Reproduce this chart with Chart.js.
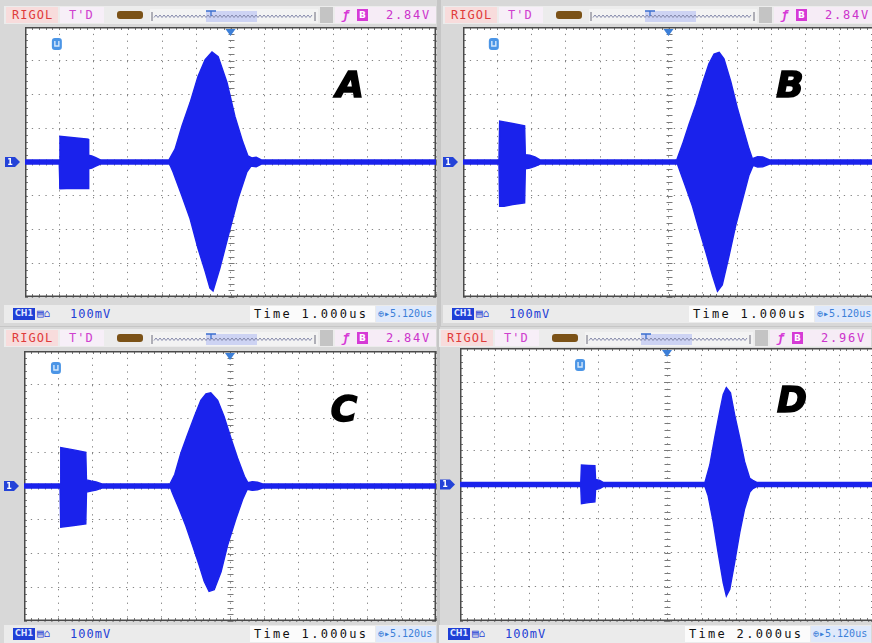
<!DOCTYPE html>
<html><head><meta charset="utf-8">
<title>Oscilloscope captures A-D</title>
<script src="https://cdn.jsdelivr.net/npm/chart.js@4.4.1/dist/chart.umd.min.js"></script>
<style>
html,body{margin:0;padding:0;background:#c6c6c6;}
#root{position:relative;width:872px;height:643px;overflow:hidden;background:#c6c6c6;font-family:"DejaVu Sans Mono","Liberation Mono",monospace;}
.abs{position:absolute;}
.txt{position:absolute;white-space:nowrap;font-size:12px;line-height:16px;height:16px;}
.big{position:absolute;font-family:"DejaVu Sans",sans-serif;font-weight:bold;font-style:italic;font-size:36px;line-height:36px;color:#000;-webkit-text-stroke:1.6px #000;transform:translate(-50%,-50%);}
</style></head>
<body><div id="root"></div>
<script>
// ---------------- DATA (time in divisions 0..12, amplitude in divisions -4..4) ----------------
const panelLabels   = ['A', 'B', 'C', 'D'];
const triggerLevels = ['2.84V', '2.84V', '2.84V', '2.96V'];
const voltsPerDiv   = ['100mV', '100mV', '100mV', '100mV'];
const timePerDiv    = ['1.000us', '1.000us', '1.000us', '2.000us'];
const delayValues   = ['5.120us', '5.120us', '5.120us', '5.120us'];
const triggerMarkDiv = [0.93, 0.9, 0.93, 3.48];

// Panel A envelopes
const aUpT = [0, 1.0, 1.02, 1.43, 1.84, 1.86, 1.95, 2.05, 2.2, 4.2, 4.38, 4.58, 4.82, 5.05, 5.26, 5.46, 5.64, 5.9, 6.13, 6.36, 6.51, 6.62, 6.75, 6.9, 12];
const aUpV = [0.06, 0.06, 0.76, 0.72, 0.68, 0.2, 0.18, 0.14, 0.06, 0.06, 0.38, 1.06, 1.76, 2.53, 3.03, 3.26, 3.12, 2.35, 1.35, 0.59, 0.18, 0.12, 0.14, 0.06, 0.06];
const aLoT = [0, 1.0, 1.02, 1.43, 1.84, 1.86, 1.95, 2.05, 2.2, 4.22, 4.32, 4.58, 4.82, 5.05, 5.26, 5.4, 5.49, 5.69, 5.99, 6.22, 6.48, 6.6, 6.75, 6.9, 12];
const aLoV = [-0.06, -0.06, -0.79, -0.78, -0.79, -0.2, -0.18, -0.13, -0.06, -0.06, -0.29, -1.0, -1.68, -2.56, -3.24, -3.74, -3.82, -3.15, -1.97, -1.09, -0.29, -0.12, -0.14, -0.06, -0.06];

// Panel B envelopes
const bUpT = [0, 1.05, 1.07, 1.45, 1.80, 1.82, 1.95, 2.1, 2.25, 6.24, 6.41, 6.6, 6.8, 6.99, 7.18, 7.33, 7.48, 7.62, 7.82, 8.01, 8.2, 8.35, 8.45, 8.6, 8.75, 8.95, 12];
const bUpV = [0.06, 0.06, 1.21, 1.14, 1.07, 0.22, 0.2, 0.15, 0.06, 0.06, 0.53, 1.12, 1.70, 2.33, 2.91, 3.2, 3.25, 3.06, 2.38, 1.6, 0.92, 0.39, 0.1, 0.16, 0.15, 0.06, 0.06];
const bLoT = [0, 1.05, 1.07, 1.2, 1.45, 1.80, 1.82, 1.95, 2.1, 2.25, 6.26, 6.5, 6.7, 6.89, 7.09, 7.28, 7.43, 7.57, 7.77, 7.96, 8.16, 8.35, 8.47, 8.6, 8.75, 8.95, 12];
const bLoV = [-0.06, -0.06, -1.31, -1.31, -1.26, -1.21, -0.2, -0.18, -0.13, -0.06, -0.06, -0.73, -1.31, -1.99, -2.67, -3.35, -3.83, -3.64, -2.77, -1.89, -1.12, -0.39, -0.1, -0.15, -0.14, -0.06, -0.06];

// Panel C envelopes
const cUpT = [0, 1.05, 1.07, 1.45, 1.80, 1.82, 1.95, 2.1, 2.27, 4.25, 4.39, 4.57, 4.76, 4.96, 5.15, 5.3, 5.44, 5.64, 5.83, 6.03, 6.22, 6.42, 6.52, 6.65, 6.8, 6.95, 12];
const cUpV = [0.06, 0.06, 1.14, 1.07, 1.0, 0.18, 0.15, 0.12, 0.06, 0.06, 0.34, 0.98, 1.51, 2.05, 2.54, 2.73, 2.76, 2.54, 2.05, 1.41, 0.83, 0.29, 0.1, 0.13, 0.11, 0.06, 0.06];
const cLoT = [0, 1.05, 1.07, 1.45, 1.80, 1.82, 1.95, 2.1, 2.27, 4.27, 4.32, 4.52, 4.71, 4.91, 5.1, 5.25, 5.39, 5.54, 5.74, 5.93, 6.17, 6.37, 6.5, 6.65, 6.8, 6.95, 12];
const cLoV = [-0.06, -0.06, -1.22, -1.17, -1.12, -0.18, -0.15, -0.12, -0.06, -0.06, -0.2, -0.68, -1.17, -1.76, -2.34, -2.83, -3.12, -3.07, -2.54, -1.76, -0.98, -0.39, -0.1, -0.13, -0.11, -0.06, -0.06];

// Panel D envelopes
const dUpT = [0, 3.50, 3.52, 3.72, 3.91, 3.93, 4.05, 4.15, 7.1, 7.24, 7.38, 7.53, 7.63, 7.72, 7.84, 7.96, 8.11, 8.25, 8.4, 8.49, 8.6, 12];
const dUpV = [0.06, 0.06, 0.57, 0.56, 0.55, 0.15, 0.12, 0.06, 0.06, 0.57, 1.36, 2.15, 2.64, 2.84, 2.69, 2.05, 1.36, 0.67, 0.18, 0.12, 0.06, 0.06];
const dLoT = [0, 3.50, 3.52, 3.72, 3.91, 3.93, 4.05, 4.15, 7.1, 7.19, 7.34, 7.48, 7.63, 7.72, 7.82, 7.96, 8.11, 8.25, 8.4, 8.49, 8.6, 12];
const dLoV = [-0.06, -0.06, -0.56, -0.53, -0.51, -0.15, -0.12, -0.06, -0.06, -0.32, -1.1, -1.99, -2.88, -3.27, -3.07, -2.29, -1.4, -0.71, -0.22, -0.12, -0.06, -0.06];

const envelopes = [
  [aUpT, aUpV, aLoT, aLoV],
  [bUpT, bUpV, bLoT, bLoV],
  [cUpT, cUpV, cLoT, cLoV],
  [dUpT, dUpV, dLoT, dLoV]
];

// ---------------- LAYOUT ----------------
const layouts = [
  {ox: 0,   hy: 15,  fy: 314, bg: [0, 0, 437, 326],    plot: {l: 25,  t: 27,  w: 411, h: 270}, label: {x: 350, y: 85}},
  {ox: 439, hy: 15,  fy: 314, bg: [441, 0, 431, 326],  plot: {l: 463, t: 27,  w: 411, h: 270}, label: {x: 790, y: 85}},
  {ox: 0,   hy: 338, fy: 634, bg: [0, 327, 437, 316],  plot: {l: 24,  t: 351, w: 412, h: 270}, label: {x: 344, y: 409}},
  {ox: 435, hy: 338, fy: 634, bg: [440, 327, 432, 316], plot: {l: 460, t: 348, w: 414, h: 273}, label: {x: 792, y: 400}}
];

const root = document.getElementById('root');
function box(x, y, w, h, bg, extra) {
  const d = document.createElement('div');
  d.className = 'abs';
  d.style.cssText = `left:${x}px;top:${y}px;width:${w}px;height:${h}px;background:${bg};${extra || ''}`;
  root.appendChild(d);
  return d;
}
function text(x, cy, str, color, extra) {
  const s = document.createElement('div');
  s.className = 'txt';
  s.textContent = str;
  s.style.cssText = `left:${x}px;top:${cy - 8}px;color:${color};${extra || ''}`;
  root.appendChild(s);
  return s;
}
function memBar(x, cy) {
  const w = 168, h = 14;
  let zig = '';
  for (let k = 0; 4 + k * 2 <= w - 5; k++) {
    zig += (k === 0 ? 'M' : 'L') + (4 + k * 2) + ' ' + (k % 2 ? 6 : 8.5) + ' ';
  }
  const svg = `<svg xmlns="http://www.w3.org/2000/svg" width="${w}" height="${h}">
    <rect x="0" y="0" width="${w}" height="${h}" fill="#f3f3f3"/>
    <rect x="56" y="2" width="51" height="11" fill="#cdd3f3"/>
    <path d="M2 3 V12 M${w - 3} 3 V12" stroke="#6a6a7a" stroke-width="1" fill="none"/>
    <path d="${zig}" stroke="#7b7fa4" stroke-width="0.9" fill="none"/>
    <path d="M56 2 H66 M61 2 V7" stroke="#3b6fd0" stroke-width="1.3" fill="none"/>
  </svg>`;
  const d = box(x, cy - 7, w, h, 'transparent');
  d.innerHTML = svg;
}

layouts.forEach((L, i) => {
  box(L.bg[0], L.bg[1], L.bg[2], L.bg[3], '#d8d8d8');
});

// ---------------- CHART PLUGIN (frame, center-line ticks, markers) ----------------
const scopeDecor = {
  id: 'scopeDecor',
  beforeDraw(chart) {
    const {ctx, chartArea: a} = chart;
    ctx.save();
    ctx.fillStyle = '#ffffff';
    ctx.fillRect(a.left, a.top, a.right - a.left, a.bottom - a.top);
    ctx.restore();
  },
  beforeDatasetsDraw(chart) {
    const {ctx, chartArea: a, scales: {x, y}} = chart;
    ctx.save();
    ctx.strokeStyle = '#7a7a7a';
    ctx.lineWidth = 1;
    const cx = Math.round(x.getPixelForValue(6)) + 0.5;
    const cy = Math.round(y.getPixelForValue(0)) + 0.5;
    ctx.beginPath();
    for (let k = 0; k <= 40; k++) {
      const py = Math.round(y.getPixelForValue(-4 + k * 0.2)) + 0.5;
      ctx.moveTo(cx - 3, py); ctx.lineTo(cx + 3, py);
      ctx.moveTo(a.left, py); ctx.lineTo(a.left + 3, py);
      ctx.moveTo(a.right - 3, py); ctx.lineTo(a.right, py);
    }
    for (let k = 0; k <= 60; k++) {
      const px = Math.round(x.getPixelForValue(k * 0.2)) + 0.5;
      ctx.moveTo(px, cy - 3); ctx.lineTo(px, cy + 3);
      ctx.moveTo(px, a.top); ctx.lineTo(px, a.top + 3);
      ctx.moveTo(px, a.bottom - 3); ctx.lineTo(px, a.bottom);
    }
    ctx.stroke();
    ctx.strokeStyle = '#4a4a4a';
    ctx.lineWidth = 1.5;
    ctx.strokeRect(a.left + 0.75, a.top + 0.75, a.right - a.left - 1.5, a.bottom - a.top - 1.5);
    ctx.restore();
  },
  afterDraw(chart, args, opts) {
    const {ctx, chartArea: a, scales: {x, y}} = chart;
    ctx.save();
    // trigger position (top centre) triangle
    const cx = x.getPixelForValue(6);
    ctx.fillStyle = '#3c7fd8';
    ctx.beginPath();
    ctx.moveTo(cx - 5, a.top + 2); ctx.lineTo(cx + 5, a.top + 2); ctx.lineTo(cx, a.top + 9); ctx.closePath();
    ctx.fill();
    // "U" style marker
    const mx = x.getPixelForValue(opts.trig);
    const my = a.top + 17;
    ctx.fillStyle = '#4b95e6';
    ctx.beginPath();
    ctx.roundRect(mx - 5, my - 6, 10, 12, 3);
    ctx.fill();
    ctx.strokeStyle = '#d6e8fb';
    ctx.lineWidth = 1.4;
    ctx.beginPath();
    ctx.moveTo(mx - 2, my - 3); ctx.lineTo(mx - 2, my + 2); ctx.lineTo(mx + 2, my + 2); ctx.lineTo(mx + 2, my - 3);
    ctx.stroke();
    // channel marker at left of baseline
    const y0 = y.getPixelForValue(0);
    ctx.fillStyle = '#2443d8';
    ctx.fillRect(a.left - 20, y0 - 5, 10, 10);
    ctx.beginPath();
    ctx.moveTo(a.left - 10, y0 - 5); ctx.lineTo(a.left - 5, y0); ctx.lineTo(a.left - 10, y0 + 5); ctx.closePath();
    ctx.fill();
    ctx.fillStyle = '#ffffff';
    ctx.font = 'bold 8px "DejaVu Sans"';
    ctx.textAlign = 'center';
    ctx.textBaseline = 'middle';
    ctx.fillText('1', a.left - 15, y0 + 0.5);
    ctx.restore();
  }
};

const WAVE = 'rgb(26,34,236)';
function pts(t, v) { return t.map((tv, k) => ({x: tv, y: v[k]})); }

layouts.forEach((L, i) => {
  const P = L.plot;
  const padL = P.l - L.ox;
  const cw = padL + P.w + 3;
  const ch = P.h + 6;
  const cv = document.createElement('canvas');
  cv.width = cw; cv.height = ch;
  cv.style.cssText = `position:absolute;left:${L.ox}px;top:${P.t - 3}px;width:${cw}px;height:${ch}px;`;
  root.appendChild(cv);
  const [upT, upV, loT, loV] = envelopes[i];
  new Chart(cv, {
    type: 'line',
    data: {
      datasets: [
        {label: 'upper', data: pts(upT, upV), borderColor: WAVE, backgroundColor: WAVE, borderWidth: 1.4, pointRadius: 0, tension: 0, fill: '+1'},
        {label: 'lower', data: pts(loT, loV), borderColor: WAVE, backgroundColor: WAVE, borderWidth: 1.4, pointRadius: 0, tension: 0, fill: false}
      ]
    },
    options: {
      responsive: false,
      maintainAspectRatio: false,
      animation: false,
      events: [],
      layout: {padding: {left: padL, right: 3, top: 3, bottom: 3}},
      plugins: {legend: {display: false}, tooltip: {enabled: false}, scopeDecor: {trig: triggerMarkDiv[i]}},
      scales: {
        x: {type: 'linear', min: 0, max: 12, ticks: {display: false, stepSize: 1}, grid: {color: '#858585', lineWidth: 1, drawTicks: false}, border: {display: false, dash: [1.3, 5.5]}},
        y: {type: 'linear', min: -4, max: 4, ticks: {display: false, stepSize: 1}, grid: {color: '#858585', lineWidth: 1, drawTicks: false}, border: {display: false, dash: [1.3, 5.5]}}
      }
    },
    plugins: [scopeDecor]
  });

  // header bar
  const ox = L.ox, hy = L.hy;
  box(ox + 4, hy - 9, 432, 18, '#ececec');
  box(ox + 6, hy - 8, 52, 16, '#f8dcdc');
  text(ox + 12, hy, 'RIGOL', '#e03a3a', 'letter-spacing:1px;');
  box(ox + 60, hy - 8, 44, 16, '#f7eff8');
  text(ox + 69, hy, "T'D", '#cf40cf', 'letter-spacing:1px;');
  box(ox + 117, hy - 4, 26, 8, '#7b5217', 'border-radius:3px;');
  memBar(ox + 150, hy);
  box(ox + 320, hy - 8, 13, 16, '#c4c4c4');
  box(ox + 335, hy - 8, 101, 16, '#f6ecf6');
  text(ox + 342, hy, 'ƒ', '#d63ad6', 'font-weight:bold;font-style:italic;');
  const bb = box(ox + 357, hy - 6, 11, 12, '#d63ad6');
  bb.innerHTML = '<div style="color:#fff;font:bold 9px \'DejaVu Sans\';line-height:12px;text-align:center;">B</div>';
  text(ox + 386, hy, triggerLevels[i], '#cc33cc', 'letter-spacing:1.8px;');

  // footer bar
  const fy = L.fy;
  box(ox + 4, fy - 9, 432, 18, '#ebebeb');
  const ic = box(ox + 13, fy - 6, 22, 12, '#1f3fd6');
  ic.innerHTML = '<div style="color:#dfe6ff;font:bold 8px \'DejaVu Sans\';line-height:12px;text-align:center;">CH1</div>';
  text(ox + 37, fy, '▤⌂', '#1f3fd6', 'font-size:11px;');
  text(ox + 70, fy, voltsPerDiv[i], '#1f3fd6', 'letter-spacing:1px;');
  box(ox + 250, fy - 8, 125, 16, '#fbfbfb');
  text(ox + 254, fy, 'Time ' + timePerDiv[i], '#111111', 'letter-spacing:2.3px;');
  box(ox + 376, fy - 8, 60, 16, '#dfe9fb');
  text(ox + 378, fy, '⊕▸' + delayValues[i], '#3b7fd8', 'font-size:10px;');

  // panel letter
  const lb = document.createElement('div');
  lb.className = 'big';
  lb.textContent = panelLabels[i];
  lb.style.left = L.label.x + 'px';
  lb.style.top = L.label.y + 'px';
  root.appendChild(lb);
});
</script>
</body></html>
